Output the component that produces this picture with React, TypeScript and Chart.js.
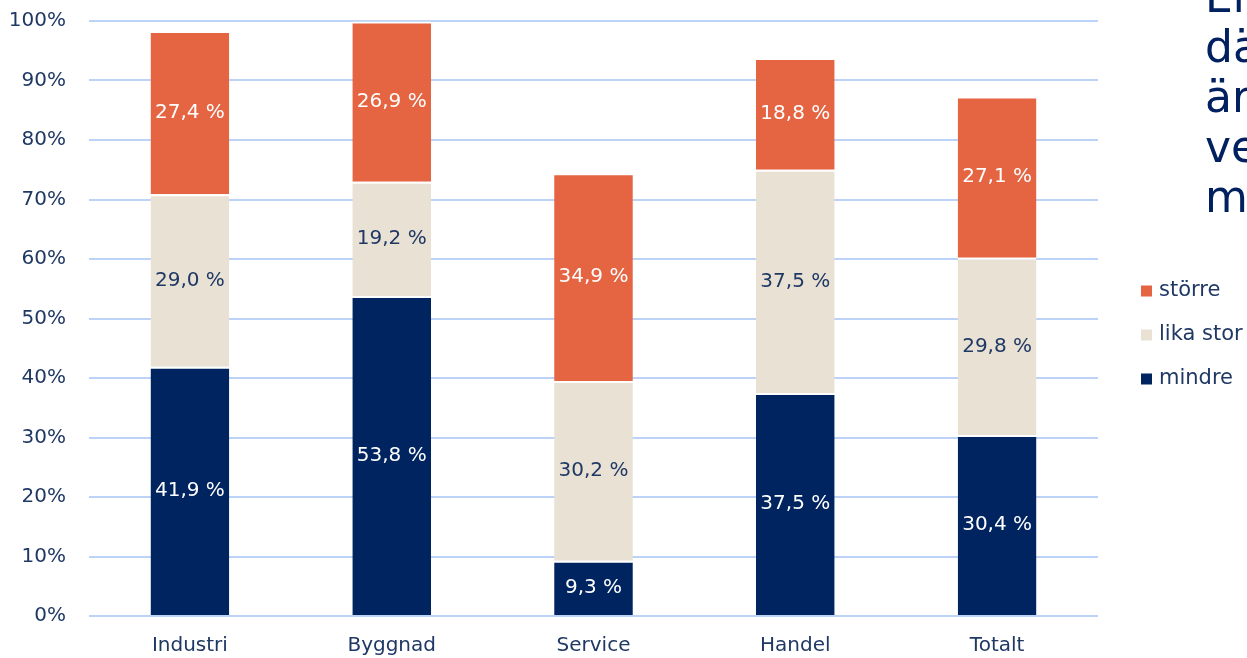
import React, { useEffect, useRef } from "react";
import { Chart, registerables } from "chart.js";

Chart.register(...registerables);

const categories = ["Industri", "Byggnad", "Service", "Handel", "Totalt"];
const mindre = [41.9, 53.8, 9.3, 37.5, 30.4];
const likaStor = [29.0, 19.2, 30.2, 37.5, 29.8];
const storre = [27.4, 26.9, 34.9, 18.8, 27.1];
const yTicks = [0, 10, 20, 30, 40, 50, 60, 70, 80, 90, 100];
const sideText = ["En", "där", "är", "ver", "mer"];

const FONT = '"DejaVu Sans", sans-serif';
const NAVY_TEXT = "#1F3864";
const C_STORRE = "#E56441";
const C_LIKA = "#E8E1D4";
const C_MINDRE = "#00245F";

const CANVAS_TOP = -14;
const CANVAS_H = 694;

const labelColors = ["#FFFFFF", NAVY_TEXT, "#FFFFFF"];

const dataLabelPlugin = {
  id: "segLabels",
  afterDatasetsDraw(chart: any) {
    const ctx = chart.ctx;
    ctx.save();
    ctx.font = `20px ${FONT}`;
    ctx.textAlign = "center";
    ctx.textBaseline = "middle";
    chart.data.datasets.forEach((ds: any, di: number) => {
      const meta = chart.getDatasetMeta(di);
      meta.data.forEach((el: any, i: number) => {
        const v = ds.data[i] as number;
        const { x, y, base } = el.getProps(["x", "y", "base"], true);
        ctx.fillStyle = labelColors[di];
        ctx.fillText(v.toFixed(1).replace(".", ",") + " %", x, (y + base) / 2);
      });
    });
    ctx.restore();
  },
};

const legendPlugin = {
  id: "sideLegend",
  afterDraw(chart: any) {
    const ctx = chart.ctx;
    ctx.save();
    ctx.font = `21px ${FONT}`;
    ctx.textBaseline = "middle";
    ctx.textAlign = "left";
    const n = chart.data.datasets.length;
    for (let k = 0; k < n; k++) {
      const ds = chart.data.datasets[n - 1 - k];
      const cy = 291 - CANVAS_TOP + k * 44;
      ctx.fillStyle = ds.backgroundColor;
      ctx.fillRect(1141, cy - 5.5, 11, 11);
      ctx.fillStyle = NAVY_TEXT;
      ctx.fillText(ds.label, 1159, cy);
    }
    ctx.restore();
  },
};

export default function App() {
  const ref = useRef<HTMLCanvasElement>(null);
  useEffect(() => {
    if (!ref.current) return;
    const chart = new Chart(ref.current, {
      type: "bar",
      data: {
        labels: categories,
        datasets: [
          { label: "mindre", data: mindre, backgroundColor: C_MINDRE },
          { label: "lika stor", data: likaStor, backgroundColor: C_LIKA },
          { label: "större", data: storre, backgroundColor: C_STORRE },
        ].map((d) => ({
          ...d,
          borderColor: "#FFFFFF",
          borderWidth: { top: 2, bottom: 0, left: 0, right: 0 },
          borderSkipped: false,
          barPercentage: 0.39,
          categoryPercentage: 1,
        })) as any,
      },
      options: {
        animation: false,
        responsive: false,
        devicePixelRatio: 1,
        layout: { padding: { top: 9, right: 149, bottom: 20, left: 0 } },
        plugins: { legend: { display: false }, tooltip: { enabled: false } },
        scales: {
          x: {
            stacked: true,
            grid: { display: false, drawTicks: false },
            border: { display: false },
            ticks: { color: NAVY_TEXT, font: { family: FONT, size: 20 }, padding: 18 },
            afterFit: (s: any) => {
              s.height = 44;
            },
          },
          y: {
            stacked: true,
            min: 0,
            max: 100,
            afterBuildTicks: (s: any) => {
              s.ticks = yTicks.map((v) => ({ value: v }));
            },
            grid: { color: "#BCD3F7", lineWidth: 2, drawTicks: false },
            border: { display: false },
            ticks: {
              color: NAVY_TEXT,
              font: { family: FONT, size: 20 },
              padding: 23,
              callback: (v: any) => v + "%",
            },
            afterFit: (s: any) => {
              s.width = 89;
            },
          },
        },
      },
      plugins: [dataLabelPlugin, legendPlugin],
    });
    return () => chart.destroy();
  }, []);

  return (
    <div style={{ position: "fixed", left: 0, top: 0, width: 1247, height: 658, overflow: "hidden", background: "#fff" }}>
      <canvas
        ref={ref}
        width={1247}
        height={CANVAS_H}
        style={{ position: "absolute", left: 0, top: CANVAS_TOP, width: 1247, height: CANVAS_H }}
      />
      <div
        style={{
          position: "absolute",
          left: 1205,
          top: -28,
          fontFamily: FONT,
          fontSize: 44,
          lineHeight: "50px",
          color: "#002060",
          whiteSpace: "nowrap",
        }}
      >
        {sideText.map((t, i) => (
          <div key={i}>{t}</div>
        ))}
      </div>
    </div>
  );
}
